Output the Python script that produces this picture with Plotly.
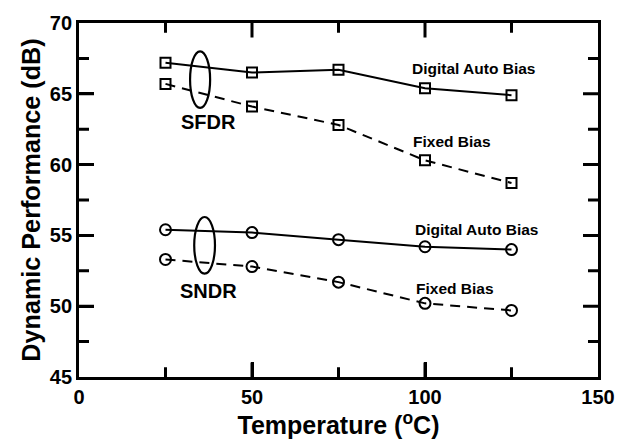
import plotly.graph_objects as go

temps = [25, 50, 75, 100, 125]
sfdr_auto = [67.2, 66.5, 66.7, 65.4, 64.9]
sfdr_fixed = [65.7, 64.1, 62.8, 60.3, 58.7]
sndr_auto = [55.4, 55.2, 54.7, 54.2, 54.0]
sndr_fixed = [53.3, 52.8, 51.7, 50.2, 49.7]

x_range = [0, 150]
x_major = [0, 50, 100, 150]
x_minor = [25, 75, 125]
y_range = [45, 70]
y_major = [45, 50, 55, 60, 65, 70]
y_minor = [47.5, 52.5, 57.5, 62.5, 67.5]

# group labels / ellipses (center x, center y, half-width, half-height)
groups = ["SFDR", "SNDR"]
ellipse_cx = [35.0, 36.3]
ellipse_cy = [66.0, 54.3]
ellipse_rx = [2.9, 3.0]
ellipse_ry = [2.0, 2.0]
group_label_xy = [(37.3, 63.0), (37.3, 51.1)]

series_labels = ["Digital Auto Bias", "Fixed Bias", "Digital Auto Bias", "Fixed Bias"]
series_label_xy = [(96.2, 66.8), (96.6, 61.6), (97.2, 55.45), (97.5, 51.25)]

FONT = "Liberation Sans, Arial, Helvetica, sans-serif"
W, H = 631, 441
ML, MR, MT, MB = 79, 33, 15, 61
MAJOR_LEN, MINOR_LEN, TICK_W = 15, 10, 3

plot_w = W - ML - MR
plot_h = H - MT - MB

fig = go.Figure()

def add(y, dash, symbol, size):
    fig.add_trace(go.Scatter(
        x=temps, y=y, mode="lines+markers",
        line=dict(color="black", width=2, dash=dash),
        marker=dict(symbol=symbol, size=size, color="black",
                    line=dict(color="black", width=2)),
        showlegend=False, cliponaxis=False))

add(sfdr_auto, "solid", "square-open", 10)
add(sfdr_fixed, "10px,7px", "square-open", 10)
add(sndr_auto, "solid", "circle-open", 11)
add(sndr_fixed, "10px,7px", "circle-open", 11)

for cx, cy, rx, ry in zip(ellipse_cx, ellipse_cy, ellipse_rx, ellipse_ry):
    fig.add_shape(type="circle", xref="x", yref="y",
                  x0=cx - rx, x1=cx + rx, y0=cy - ry, y1=cy + ry,
                  line=dict(color="black", width=2.2))

# inside tick marks on all four sides, as one path in paper coordinates
def fx(v):
    return (v - x_range[0]) / (x_range[1] - x_range[0])

def fy(v):
    return (v - y_range[0]) / (y_range[1] - y_range[0])

segs = []
def xtick(v, length):
    d = length / plot_h
    segs.append("M%.5f,0 L%.5f,%.5f" % (fx(v), fx(v), d))
    segs.append("M%.5f,1 L%.5f,%.5f" % (fx(v), fx(v), 1 - d))

def ytick(v, length):
    d = length / plot_w
    segs.append("M0,%.5f L%.5f,%.5f" % (fy(v), d, fy(v)))
    segs.append("M1,%.5f L%.5f,%.5f" % (fy(v), 1 - d, fy(v)))

for v in x_major:
    if x_range[0] < v < x_range[1]:
        xtick(v, MAJOR_LEN)
for v in x_minor:
    xtick(v, MINOR_LEN)
for v in y_major:
    if y_range[0] < v < y_range[1]:
        ytick(v, MAJOR_LEN)
for v in y_minor:
    ytick(v, MINOR_LEN)

fig.add_shape(type="path", xref="paper", yref="paper", path=" ".join(segs),
              line=dict(color="black", width=TICK_W), layer="above")

for name, (gx, gy) in zip(groups, group_label_xy):
    fig.add_annotation(x=gx, y=gy, text="<b>" + name + "</b>", showarrow=False,
                       font=dict(family=FONT, size=20, color="black"),
                       xanchor="center", yanchor="middle")

for name, (sx, sy) in zip(series_labels, series_label_xy):
    fig.add_annotation(x=sx, y=sy, text="<b>" + name + "</b>", showarrow=False,
                       font=dict(family=FONT, size=15.5, color="black"),
                       xanchor="left", yanchor="middle", xshift=-2)

axis_common = dict(
    showgrid=False, zeroline=False, showline=True, linecolor="black", linewidth=2.8,
    mirror=True, ticks="inside", ticklen=MAJOR_LEN, tickwidth=TICK_W, tickcolor="black",
    tickfont=dict(family=FONT, size=20, color="black"),
)

fig.update_xaxes(
    range=x_range, tickvals=x_major, ticktext=["<b>%g</b>" % v for v in x_major],
    title=dict(text="<b>Temperature (<sup>o</sup>C)</b>", standoff=4,
               font=dict(family=FONT, size=25, color="black")),
    **axis_common)
fig.update_yaxes(
    range=y_range, tickvals=y_major, ticktext=["<b>%g</b>" % v for v in y_major],
    title=dict(text="<b>Dynamic Performance (dB)</b>", standoff=3,
               font=dict(family=FONT, size=25.2, color="black")),
    **axis_common)

fig.update_layout(
    width=W, height=H,
    margin=dict(l=ML, r=MR, t=MT, b=MB),
    paper_bgcolor="white", plot_bgcolor="white",
)

fig.write_html("out.html")
